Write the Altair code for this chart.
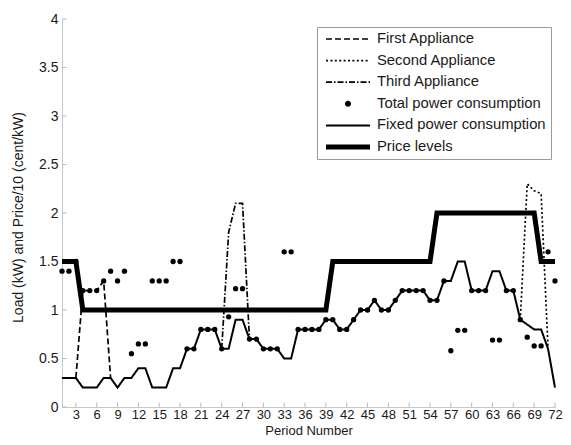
import altair as alt
import pandas as pd

FONT = "Liberation Sans"
TXT = "#1a1a1a"

S1 = "First Appliance"
S2 = "Second Appliance"
S3 = "Third Appliance"
ST = "Total power consumption"
SF = "Fixed power consumption"
SP = "Price levels"
series_order = [S1, S2, S3, ST, SF, SP]

periods = list(range(1, 73))

fixed = [0.3, 0.3, 0.3, 0.2, 0.2, 0.2, 0.3, 0.3, 0.2, 0.3,
         0.3, 0.4, 0.4, 0.2, 0.2, 0.2, 0.4, 0.4, 0.6, 0.6,
         0.8, 0.8, 0.8, 0.6, 0.6, 0.9, 0.9, 0.7, 0.7, 0.6,
         0.6, 0.6, 0.5, 0.5, 0.8, 0.8, 0.8, 0.8, 0.9, 0.9,
         0.8, 0.8, 0.9, 1.0, 1.0, 1.1, 1.0, 1.0, 1.1, 1.2,
         1.2, 1.2, 1.2, 1.1, 1.1, 1.3, 1.3, 1.5, 1.5, 1.2,
         1.2, 1.2, 1.4, 1.4, 1.2, 1.2, 0.9, 0.85, 0.8, 0.8,
         0.6, 0.2]

total = [1.4, 1.4, 1.5, 1.2, 1.2, 1.2, 1.3, 1.4, 1.3, 1.4,
         0.55, 0.65, 0.65, 1.3, 1.3, 1.3, 1.5, 1.5, 0.6, 0.6,
         0.8, 0.8, 0.8, 0.6, 0.93, 1.22, 1.22, 0.7, 0.7, 0.6,
         0.6, 0.6, 1.6, 1.6, 0.8, 0.8, 0.8, 0.8, 0.9, 0.9,
         0.8, 0.8, 0.9, 1.0, 1.0, 1.1, 1.0, 1.0, 1.1, 1.2,
         1.2, 1.2, 1.2, 1.1, 1.1, 1.3, 0.58, 0.79, 0.79, 1.2,
         1.2, 1.2, 0.69, 0.69, 1.2, 1.2, 0.9, 0.72, 0.63, 0.63,
         1.6, 1.3]

price = [1.5, 1.5, 1.5] + [1.0] * 36 + [1.5] * 15 + [2.0] * 15 + [1.5] * 3

first_periods = [3, 4, 5, 6, 7, 8]
first_load = [0.3, 1.2, 1.2, 1.2, 1.3, 0.3]
second_periods = [67, 68, 69, 70, 71]
second_load = [0.9, 2.3, 2.23, 2.2, 0.6]
third_periods = [24, 25, 26, 27, 28]
third_load = [0.6, 1.8, 2.1, 2.1, 0.7]

x_ticks = list(range(3, 73, 3))
y_ticks = [0, 0.5, 1, 1.5, 2, 2.5, 3, 3.5, 4]

rows = []
for name, ps, vs in [(S3, third_periods, third_load),
                     (S1, first_periods, first_load),
                     (S2, second_periods, second_load),
                     (SF, periods, fixed),
                     (SP, periods, price)]:
    for p, v in zip(ps, vs):
        rows.append({"period": p, "value": v, "series": name})
line_df = pd.DataFrame(rows)
dots_df = pd.DataFrame({"period": periods, "value": total})
xt_df = pd.DataFrame({"period": x_ticks, "value": [0] * len(x_ticks), "value2": [0.045] * len(x_ticks)})
yt_df = pd.DataFrame({"period": [1] * len(y_ticks), "period2": [1.65] * len(y_ticks), "value": y_ticks})

xscale = alt.Scale(domain=[1, 72], nice=False, zero=False)
yscale = alt.Scale(domain=[0, 4], nice=False, zero=True)

xaxis = alt.Axis(values=x_ticks, grid=False, ticks=False, domainColor="#c8c8c8", domainWidth=1,
                 labelFont=FONT, labelFontSize=13, labelColor=TXT, labelPadding=1,
                 labelFlush=False, labelOverlap=False,
                 title="Period Number", titleFont=FONT, titleFontSize=13, titleFontWeight="normal",
                 titleColor=TXT, titleY=27, titleBaseline="alphabetic")
yaxis = alt.Axis(values=y_ticks, format="~g", grid=False, ticks=False, domainColor="#c8c8c8", domainWidth=1,
                 labelFont=FONT, labelFontSize=14, labelColor=TXT, labelPadding=4,
                 title="Load (kW) and Price/10 (cent/kW)", titleFont=FONT, titleFontSize=14,
                 titleFontWeight="normal", titleColor=TXT, titleAngle=270,
                 titleX=-44, titleY=198, titleAlign="center", titleBaseline="middle")

line_path = "M-0.64,0H9.13"
circle_path = "M3.57,0A0.67,0.67,0,1,1,4.91,0A0.67,0.67,0,1,1,3.57,0Z"

KEY = "(datum.series || datum.value)"
width_expr = f"{KEY} === '{SP}' ? 5 : ({KEY} === '{ST}' ? 0 : ({KEY} === '{SF}' ? 2 : 1.7))"

legend = alt.Legend(
    title=None, orient="none", legendX=255, legendY=8,
    padding=4.5, strokeColor="#9a9a9a", fillColor="white", cornerRadius=0,
    labelFont=FONT, labelFontSize=14.8, labelColor=TXT, labelLimit=400,
    labelOffset=40.7, symbolSize=81, rowPadding=5.6, clipHeight=15,
    symbolType=alt.ExprRef(expr=f"datum.value === '{ST}' ? '{circle_path}' : '{line_path}'"),
    symbolFillColor=alt.ExprRef(expr=f"datum.value === '{ST}' ? 'black' : 'transparent'"),
    symbolStrokeColor=alt.ExprRef(expr=f"datum.value === '{ST}' ? 'transparent' : 'black'"),
    symbolStrokeWidth=alt.ExprRef(expr=width_expr),
)

X = alt.X("period:Q", scale=xscale, axis=xaxis)
Y = alt.Y("value:Q", scale=yscale, axis=yaxis)

xticks = alt.Chart(xt_df).mark_rule(color="#b8b8b8", strokeWidth=1).encode(
    x=X, y=Y, y2="value2:Q",
)
yticks = alt.Chart(yt_df).mark_rule(color="#b8b8b8", strokeWidth=1).encode(
    x=X, x2="period2:Q", y=Y,
)

lines = alt.Chart(line_df).mark_line(
    color="black", strokeCap="butt", strokeJoin="miter",
    strokeWidth=alt.ExprRef(expr=width_expr),
).encode(
    x=X, y=Y,
    strokeDash=alt.StrokeDash("series:N", scale=alt.Scale(
        domain=series_order,
        range=[[6, 3], [2, 2.4], [6, 2, 1.5, 2], [1, 0], [1, 0], [1, 0]]), legend=legend),
)

dots = alt.Chart(dots_df).mark_circle(size=28, color="black", opacity=1).encode(
    x=X, y=Y,
)

chart = alt.layer(xticks, yticks, lines, dots).properties(
    width=493, height=388,
    autosize=alt.AutoSizeParams(type="none"),
    padding={"left": 54, "top": 11, "right": 8, "bottom": 30},
).configure_view(stroke=None)

chart.save("out.html", embed_options={"renderer": "svg", "actions": False})
